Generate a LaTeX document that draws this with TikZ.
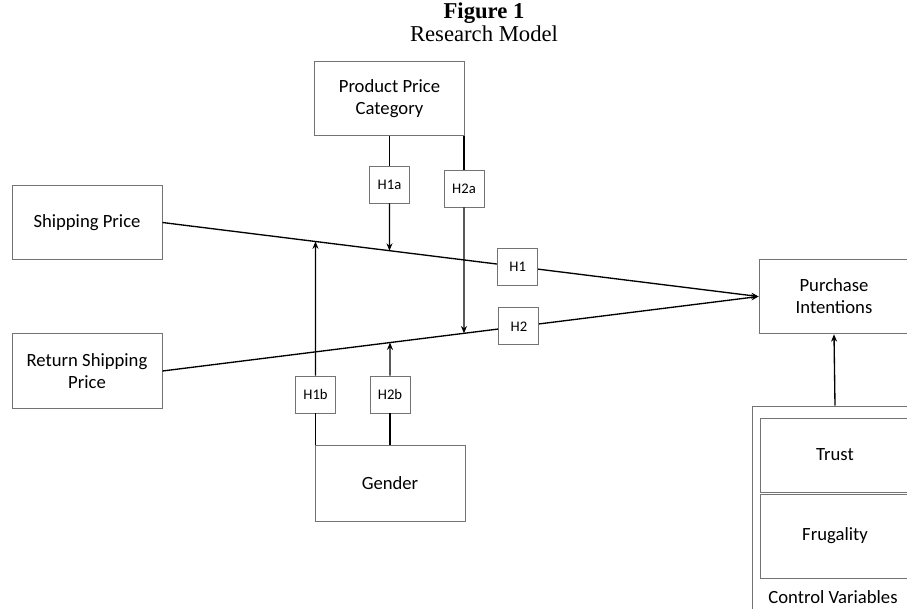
\documentclass[tikz,border=0pt]{standalone}
\usepackage{fontspec}
\setmainfont{Liberation Serif}
\newfontfamily\calib{Carlito}
\usetikzlibrary{arrows.meta,calc}

\begin{document}
\begin{tikzpicture}[x=0.75pt,y=-0.75pt,>={Stealth[length=5.5pt,width=4.5pt]},
  var/.style={draw=black!55,line width=0.7pt,fill=white,align=center,inner sep=0pt,
    minimum width=112.5pt,minimum height=56pt,font=\calib\fontsize{14}{16.5}\selectfont},
  hyp/.style={draw=black!55,line width=0.7pt,fill=white,inner sep=0pt,
    minimum width=30pt,minimum height=27.75pt,font=\calib\fontsize{11}{12}\selectfont},
  link/.style={line width=1pt}]
  \useasboundingbox (0,0) rectangle (907,608);
  % caption
  \node[font=\bfseries\fontsize{17}{20}\selectfont] (fig) at (484,13.5) {Figure 1};
  \node[font=\fontsize{17}{20}\selectfont] (title) at (484,34) {Research Model};
  % the constructs
  \node[var] (ppc) at (389.5,98.5) {Product Price\\Category};
  \node[var] (sp) at (87,222.5) {Shipping Price};
  \node[var] (rsp) at (87,371) {Return Shipping\\Price};
  \node[var] (pi) at (834,296.5) {Purchase\\Intentions};
  \node[var,minimum height=57pt] (gen) at (390,483) {Gender};
  % control block, cut by the page edge
  \node[var,minimum width=124.5pt,minimum height=168pt] (ctrl) at (835,518) {};
  \node[var,minimum height=55.5pt] (trust) at (835,455) {Trust};
  \node[var,minimum height=63pt] (frug) at (835,536) {Frugality};
  \node[font=\calib\fontsize{14}{16.5}\selectfont] (ctrllbl) at (833,597) {Control Variables};
  % main effects
  \draw[link,->] (sp.east) -- (pi.west);
  \draw[link,->] (rsp.east) -- (pi.west);
  \draw[link,->] (ctrl.north) -- (pi.south);
  \node[hyp] (h1) at ($(sp.east)!0.596!(pi.west)$) {H1};
  \node[hyp] (h2) at ($(rsp.east)!0.598!(pi.west)$) {H2};
  % moderators
  \node[hyp] (h1a) at (389.5,184.5) {H1a};
  \node[hyp] (h2a) at (464,188.5) {H2a};
  \node[hyp] (h1b) at (315.5,394.5) {H1b};
  \node[hyp] (h2b) at (390,394.5) {H2b};
  \draw[link] (ppc.south) -- (h1a.north);
  \draw[link,->] (h1a.south) -- (intersection of sp.east--pi.west and h1a.north--h1a.south);
  \draw[link] (h2a |- ppc.south) -- (h2a.north);
  \draw[link,->] (h2a.south) -- (intersection of rsp.east--pi.west and h2a.north--h2a.south);
  \draw[link] (h1b |- gen.north) -- (h1b.south);
  \draw[link,->] (h1b.north) -- (intersection of sp.east--pi.west and h1b.south--h1b.north);
  \draw[link] (gen.north) -- (h2b.south);
  \draw[link,->] (h2b.north) -- (intersection of rsp.east--pi.west and h2b.south--h2b.north);
\end{tikzpicture}
\end{document}
